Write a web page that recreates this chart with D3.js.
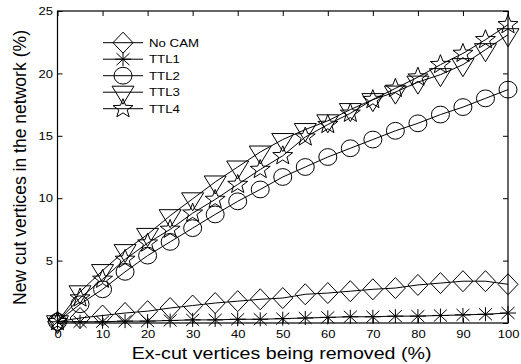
<!DOCTYPE html>
<html>
<head>
<meta charset="utf-8">
<script src="https://cdn.jsdelivr.net/npm/d3@7/dist/d3.min.js"></script>
<style>
  html, body { margin: 0; padding: 0; background: #fff; }
  svg { display: block; }
  text { font-family: "Liberation Sans", Arial, Helvetica, sans-serif; fill: #000; }
</style>
</head>
<body>
<svg id="chart" width="521" height="364"></svg>
<script>
// ---- data ----
const xValues = [0, 5, 10, 15, 20, 25, 30, 35, 40, 45, 50, 55, 60, 65, 70, 75, 80, 85, 90, 95, 100];
const noCam = [0.1, 0.4, 0.6, 0.8, 0.95, 1.2, 1.4, 1.6, 1.75, 1.9, 2.0, 2.3, 2.4, 2.55, 2.7, 2.8, 3.05, 3.2, 3.35, 3.35, 3.1];
const ttl1  = [0.1, 0.1, 0.1, 0.15, 0.15, 0.2, 0.25, 0.25, 0.3, 0.3, 0.35, 0.4, 0.45, 0.5, 0.5, 0.55, 0.55, 0.6, 0.65, 0.7, 0.8];
const ttl2  = [0.1, 1.5, 2.7, 4.1, 5.4, 6.5, 7.6, 8.7, 9.75, 10.7, 11.7, 12.5, 13.3, 14.0, 14.7, 15.4, 16.0, 16.7, 17.3, 18.0, 18.7];
const ttl3  = [0.1, 2.5, 4.2, 5.8, 7.1, 8.6, 9.95, 11.3, 12.5, 13.7, 14.7, 15.5, 16.2, 17.1, 17.9, 18.5, 19.3, 19.9, 20.7, 21.9, 23.1];
const ttl4  = [0.1, 2.0, 3.5, 5.1, 6.4, 7.5, 8.8, 9.9, 11.1, 12.3, 13.4, 14.9, 15.9, 16.8, 17.9, 18.8, 19.7, 20.7, 21.6, 22.7, 23.9];
const seriesNames = ["No CAM", "TTL1", "TTL2", "TTL3", "TTL4"];
const seriesMarkers = ["diamond", "asterisk", "circle", "triangleDown", "star"];
const xTicks = [0, 10, 20, 30, 40, 50, 60, 70, 80, 90, 100];
const yTicks = [0, 5, 10, 15, 20, 25];
const yTickLabels = ["", "5", "10", "15", "20", "25"];
const xTitle = "Ex-cut vertices being removed (%)";
const yTitleMain = "New cut vertices in the network";
const yTitleUnit = "(%)";

const seriesValues = [noCam, ttl1, ttl2, ttl3, ttl4];

// ---- layout ----
const svg = d3.select("#chart");
const mLeft = 57.5, mRight = 508, mTop = 11, mBottom = 323;
const x = d3.scaleLinear().domain([0, 100]).range([mLeft, mRight]);
const y = d3.scaleLinear().domain([0, 25]).range([mBottom, mTop]);

function stretch(sel, k) {
  sel.each(function () {
    const w = this.getComputedTextLength();
    if (w > 0) d3.select(this).attr("textLength", w * k).attr("lengthAdjust", "spacingAndGlyphs");
  });
}

// axes
const gx = svg.append("g").attr("transform", `translate(0,${mBottom})`)
  .call(d3.axisBottom(x).tickValues(xTicks).tickSizeInner(-5).tickSizeOuter(0).tickPadding(7));
const gxTop = svg.append("g").attr("transform", `translate(0,${mTop})`)
  .call(d3.axisTop(x).tickValues(xTicks).tickSizeInner(-5).tickSizeOuter(0).tickFormat(""));
const gy = svg.append("g").attr("transform", `translate(${mLeft},0)`)
  .call(d3.axisLeft(y).tickValues(yTicks).tickSizeInner(-5).tickSizeOuter(0).tickPadding(4.5)
    .tickFormat((d, i) => yTickLabels[i]));
const gyRight = svg.append("g").attr("transform", `translate(${mRight},0)`)
  .call(d3.axisRight(y).tickValues(yTicks).tickSizeInner(-5).tickSizeOuter(0).tickFormat(""));

[gx, gxTop, gy, gyRight].forEach(g => {
  g.select(".domain").remove();
  g.selectAll(".tick line").attr("stroke", "#000").attr("stroke-width", 1);
  g.selectAll("text").style("font-size", "11.5px").style("font-family", '"Liberation Sans", Arial, sans-serif').attr("fill", "#000");
});
stretch(gx.selectAll("text"), 1.13);
stretch(gy.selectAll("text"), 1.13);

// frame
svg.append("rect").attr("x", mLeft).attr("y", mTop)
  .attr("width", mRight - mLeft).attr("height", mBottom - mTop)
  .attr("fill", "none").attr("stroke", "#000").attr("stroke-width", 1.2);

// markers
function markerPath(type) {
  const p = d3.path();
  if (type === "diamond") {
    p.moveTo(0, -10.5); p.lineTo(10, 0); p.lineTo(0, 10.5); p.lineTo(-10, 0); p.closePath();
  } else if (type === "asterisk") {
    p.moveTo(-8, 0); p.lineTo(8, 0);
    p.moveTo(0, -7); p.lineTo(0, 7);
    p.moveTo(-6.5, -6); p.lineTo(6.5, 6);
    p.moveTo(-6.5, 6); p.lineTo(6.5, -6);
  } else if (type === "triangleDown") {
    p.moveTo(-11, -6); p.lineTo(11, -6); p.lineTo(0, 12); p.closePath();
  } else if (type === "star") {
    const R = 10, r = 4.2;
    for (let i = 0; i < 10; i++) {
      const a = -Math.PI / 2 + i * Math.PI / 5;
      const rad = i % 2 === 0 ? R : r;
      const px = Math.cos(a) * rad * 1.05, py = Math.sin(a) * rad;
      if (i === 0) p.moveTo(px, py); else p.lineTo(px, py);
    }
    p.closePath();
  }
  return p.toString();
}

function drawMarker(g, type, cx, cy) {
  if (type === "circle") {
    g.append("ellipse").attr("cx", cx).attr("cy", cy).attr("rx", 9).attr("ry", 8.4)
      .attr("fill", "none").attr("stroke", "#000").attr("stroke-width", 1);
  } else {
    g.append("path").attr("d", markerPath(type)).attr("transform", `translate(${cx},${cy})`)
      .attr("fill", "none").attr("stroke", "#000").attr("stroke-width", 1);
  }
}

const line = d3.line().x(d => x(d[0])).y(d => y(d[1]));
const plot = svg.append("g");
seriesValues.forEach((vals, si) => {
  const pts = xValues.map((xv, i) => [xv, vals[i]]);
  const g = plot.append("g");
  g.append("path").attr("d", line(pts)).attr("fill", "none").attr("stroke", "#000").attr("stroke-width", 1);
  pts.forEach(pt => drawMarker(g, seriesMarkers[si], x(pt[0]), y(pt[1])));
});

// legend
const legX0 = 103, legX1 = 143, legMid = 123, legText = 149, legY0 = 42.7, legStep = 16.5;
const leg = svg.append("g");
seriesNames.forEach((name, i) => {
  const yy = legY0 + i * legStep;
  leg.append("line").attr("x1", legX0).attr("x2", legX1).attr("y1", yy).attr("y2", yy)
    .attr("stroke", "#000").attr("stroke-width", 1);
  drawMarker(leg, seriesMarkers[i], legMid, yy);
  leg.append("text").attr("x", legText).attr("y", yy).attr("dy", "0.36em")
    .style("font-size", "11.5px").text(name);
});
stretch(leg.selectAll("text"), 1.15);

// x title
{
  const g = svg.append("g");
  const t = g.append("text").attr("x", 0).attr("y", 0).style("font-size", "16px").text(xTitle);
  const w = t.node().getComputedTextLength();
  const k = w > 0 ? 300 / w : 1;
  g.attr("transform", `translate(${281.7 - 150},359.3) scale(${k},1)`);
}
// y title: two pieces, each in its own rotated group placed in screen coordinates
{
  const fs = 17.5, baseX = 26, startY = 305, target = 275;
  const g1 = svg.append("g");
  const t1 = g1.append("text").attr("x", 0).attr("y", 0).style("font-size", fs + "px").text(yTitleMain);
  const g2 = svg.append("g");
  const t2 = g2.append("text").attr("x", 0).attr("y", 0).style("font-size", fs + "px").text(yTitleUnit);
  const w1 = t1.node().getComputedTextLength();
  const w2 = t2.node().getComputedTextLength();
  const gap = fs * 0.278;
  const total = w1 + gap + w2;
  const k = total > 0 ? target / total : 1;
  g1.attr("transform", `translate(${baseX},${startY}) rotate(-90) scale(${k},1)`);
  g2.attr("transform", `translate(${baseX},${startY - (w1 + gap) * k}) rotate(-90) scale(${k},1)`);
}
</script>
</body>
</html>
